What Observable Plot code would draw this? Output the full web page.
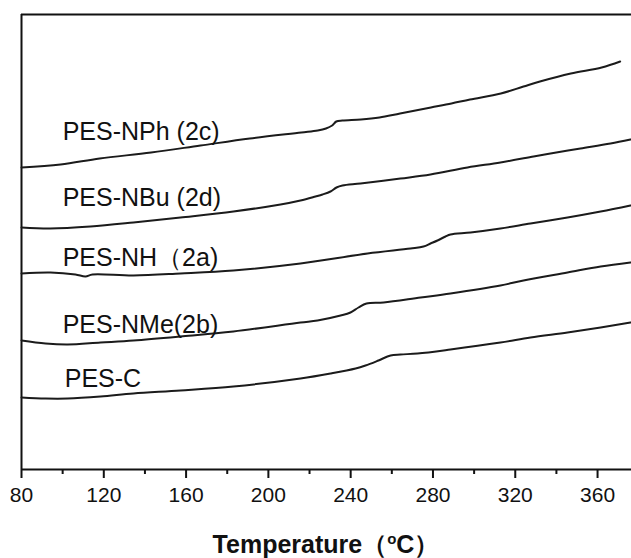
<!DOCTYPE html>
<html><head><meta charset="utf-8">
<script src="https://cdn.jsdelivr.net/npm/d3@7"></script>
<script src="https://cdn.jsdelivr.net/npm/@observablehq/plot@0.6"></script>
<style>
body{margin:0;background:#fff}
#chart svg{display:block}
</style>
</head><body><div id="chart"></div>
<script>
// DSC curves, heat flow in arbitrary units (no y scale shown)
const tempNPh = [80, 99, 118, 143, 167, 191, 216, 224, 228, 231, 233, 236, 245, 254, 264, 279, 289, 298, 313, 324, 332, 347, 362, 371];
const valNPh  = [302, 305, 311, 317, 324, 331, 337, 339, 341, 344, 348, 349, 350, 352, 356, 362, 366, 370, 376, 383, 388, 396, 402, 408];

const tempNBu = [80, 94, 113.5, 134.4, 157.3, 183, 205.9, 215.6, 222.9, 226.3, 230.2, 233.1, 236, 244.8, 264.2, 278.8, 296.8, 312.8, 328.9, 335.7, 351.7, 366.3, 376];
const valNBu  = [242, 241, 243, 247, 252, 258, 265, 269, 273, 275, 278, 282, 284, 286, 291, 295, 302, 307, 313, 315.5, 321, 326, 330];

const tempNH = [80, 94.1, 106.2, 111.1, 114.5, 134.4, 157.3, 183, 215.6, 248.2, 269.1, 275.4, 278.8, 282.2, 286.1, 288.5, 298.3, 312.8, 327.4, 345.4, 361.5, 376];
const valNH  = [196, 197, 195, 193, 195, 194, 196, 199, 206, 216, 221, 223, 226, 229, 233, 235, 237, 241, 246, 252, 258, 264];

const tempNMe = [80, 91.7, 102.4, 118.4, 134.4, 157.3, 183, 215.6, 223.9, 235.1, 239.9, 243.8, 247.7, 256, 274, 288.5, 312.8, 324, 345.4, 361.5, 376];
const valNMe  = [129, 126, 125, 127, 129, 133, 138, 147, 149, 154, 157, 162, 166, 167, 172, 176, 184, 189, 197, 203, 207];

const tempC = [80, 91.7, 102.4, 118.4, 134.4, 157.3, 183, 215.6, 230.2, 242.4, 247.2, 253.5, 259.4, 264.2, 272.5, 288.5, 312.8, 327.4, 345.4, 361.5, 376];
const valC  = [72, 71, 71, 73, 76, 79, 83, 91, 96, 101, 104, 109, 114, 115, 116, 120, 127, 132, 137, 142, 147];

const labelTexts = ["PES-NPh (2c)", "PES-NBu (2d)", "PES-NH（2a)", "PES-NMe(2b)", "PES-C"];
const labelT = [100, 100, 100, 100, 101];
const labelV = [338, 272, 212, 145, 91];

const xMajorTicks = [80, 120, 160, 200, 240, 280, 320, 360];
const xMinorTicks = [100, 140, 180, 220, 260, 300, 340];
const xDomain = [80, 376.5];
const yDomain = [0, 455];

const series = [
  ["PES-NPh", tempNPh, valNPh],
  ["PES-NBu", tempNBu, valNBu],
  ["PES-NH", tempNH, valNH],
  ["PES-NMe", tempNMe, valNMe],
  ["PES-C", tempC, valC]
];
const rows = [];
for (const [name, ts, vs] of series) ts.forEach((t, i) => rows.push({series: name, T: t, v: vs[i]}));

const font = "'Liberation Sans', Arial, Helvetica, sans-serif";

const plot = Plot.plot({
  width: 631, height: 558,
  marginLeft: 21, marginRight: 0, marginTop: 14, marginBottom: 89,
  x: {domain: xDomain, label: null},
  y: {domain: yDomain, axis: null, label: null},
  style: {fontFamily: font, background: "white", color: "#111"},
  marks: [
    Plot.ruleY([yDomain[0]], {stroke: "#111", strokeWidth: 2}),
    Plot.ruleY([yDomain[1]], {stroke: "#111", strokeWidth: 2}),
    Plot.ruleX([xDomain[0]], {stroke: "#111", strokeWidth: 2}),
    Plot.axisX(xMinorTicks, {tickSize: 5, text: null, label: null, strokeWidth: 2, stroke: "#111"}),
    Plot.axisX(xMajorTicks, {tickSize: 9, text: null, label: null, strokeWidth: 2, stroke: "#111"}),
    Plot.text(xMajorTicks, {x: d => d, y: () => yDomain[0], dy: 26, text: d => String(d), fontSize: 21, fill: "#111", textAnchor: "middle"}),
    Plot.line(rows, {x: "T", y: "v", z: "series", stroke: "#1b1b1b", strokeWidth: 2, curve: "catmull-rom"}),
    Plot.text(labelTexts, {x: (d, i) => labelT[i], y: (d, i) => labelV[i], text: d => d, textAnchor: "start", fontSize: 25, fill: "#111"})
  ]
});

const svg = d3.select(plot);
const xr = plot.scale("x").range;
const t = svg.append("text")
  .attr("x", (xr[0] + xr[1]) / 2).attr("y", 553)
  .attr("text-anchor", "middle")
  .attr("font-size", 25).attr("font-weight", "bold")
  .attr("font-family", font).attr("fill", "#111");
t.append("tspan").text("Temperature（");
t.append("tspan").attr("dy", -9).attr("font-size", 15).text("o");
t.append("tspan").attr("dy", 9).text("C）");

document.getElementById("chart").appendChild(plot);
</script>
</body></html>
